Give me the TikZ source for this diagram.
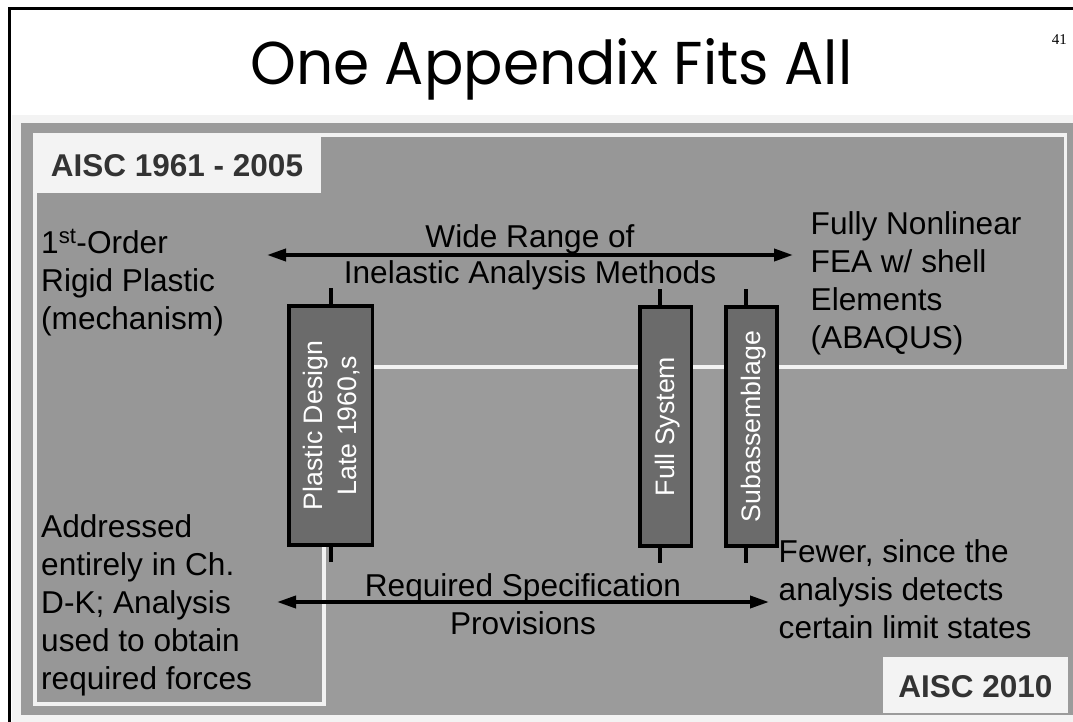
\documentclass[tikz,border=0pt]{standalone}
\usepackage{fontspec}
\setmainfont{Liberation Sans}
\newfontfamily\titlefont{Poppins}
\newfontfamily\numfont{Liberation Serif}
\usetikzlibrary{arrows.meta}
\definecolor{bandgray}{HTML}{F3F3F3}
\definecolor{panelgray}{HTML}{9B9B9B}
\definecolor{innergray}{HTML}{979797}
\definecolor{boxgray}{HTML}{6B6B6B}
\definecolor{labeltext}{HTML}{333333}
\definecolor{linewhite}{HTML}{F2F2F2}
\tikzset{
  bodytext/.style={font=\fontsize{31.6}{38}\selectfont, inner sep=0pt, text=black},
  tagbox/.style={fill=bandgray, inner sep=0pt, outer sep=0pt, font=\fontsize{31.5}{38}\selectfont\bfseries, text=labeltext, text depth=0pt},
  eraBox/.style={draw=black, line width=3.5pt, fill=boxgray, inner sep=0pt, outer sep=0pt, minimum height=239pt},
  boxtext/.style={rotate=90, text=white, font=\fontsize{26.7}{34}\selectfont, inner sep=0pt},
  stub/.style={line width=3.3pt},
  rangearrow/.style={line width=3.7pt, {Triangle[length=19pt,width=12pt]}-{Triangle[length=19pt,width=12pt]}},
  whiteline/.style={draw=linewhite, line width=3.5pt},
}
\begin{document}
\begin{tikzpicture}[x=1pt,y=-1pt]
\useasboundingbox (0,0) rectangle (1073,722);
\fill[white] (0,0) rectangle (1073,722);
% slide background
\fill[bandgray] (11.5,115) rectangle (1073,722);
\draw[black, line width=2.7pt] (9.7,722) -- (9.7,8.7) -- (1073,8.7);
\fill[panelgray] (21,123) rectangle (1073,714.5);
% L-shaped region
\fill[innergray] (35,135) -- (1065.5,135) -- (1065.5,367) -- (324,367) -- (324,704) -- (35,704) -- cycle;
\draw[whiteline] (35,135) -- (1065.5,135) -- (1065.5,367) -- (324,367) -- (324,704) -- (35,704) -- cycle;

% title and page number
\node[anchor=base west, inner sep=0pt] (title) at (250,85) {\resizebox{602pt}{46pt}{\titlefont One Appendix Fits All}};
\node[anchor=base east, inner sep=0pt, font=\numfont\fontsize{15}{18}\selectfont] (pagenum) at (1067,45) {41};

% era labels
\node[tagbox, minimum width=288pt, minimum height=59pt, text height=27pt] (oldTag) at (177,163.5) {AISC 1961 - 2005};
\node[tagbox, minimum width=185pt, minimum height=56pt, text height=25.4pt] (newTag) at (975.5,685) {AISC 2010};

% texts
\node[bodytext, anchor=base west] (rigid) at (41,253)
  {\begin{tabular}[t]{@{}l@{}}1\textsuperscript{st}-Order\\Rigid Plastic\\(mechanism)\end{tabular}};
\node[bodytext, anchor=base west] (fea) at (810.5,234)
  {\begin{tabular}[t]{@{}l@{}}Fully Nonlinear\\FEA w/ shell\\Elements\\(ABAQUS)\end{tabular}};
\node[bodytext, anchor=base west] (addressed) at (41,537)
  {\begin{tabular}[t]{@{}l@{}}Addressed\\entirely in Ch.\\D-K; Analysis\\used to obtain\\required forces\end{tabular}};
\node[bodytext, anchor=base west] (fewer) at (778.5,562)
  {\begin{tabular}[t]{@{}l@{}}Fewer, since the\\analysis detects\\certain limit states\end{tabular}};
\node[bodytext, font=\fontsize{31.6}{36}\selectfont, anchor=base] (wide) at (530,247)
  {\begin{tabular}[t]{@{}c@{}}Wide Range of\\Inelastic Analysis Methods\end{tabular}};
\node[bodytext, anchor=base] (required) at (523,596)
  {\begin{tabular}[t]{@{}c@{}}Required Specification\\Provisions\end{tabular}};

% range arrows
\coordinate (topL) at (267,255);
\coordinate (topR) at (793,255);
\coordinate (botL) at (277,602);
\coordinate (botR) at (769,602);
\draw[rangearrow] (topL) -- (topR);
\draw[rangearrow] (botL) -- (botR);

% boxes
\node[eraBox, minimum width=83.5pt] (pd) at (330.75,425.5) {};
\node[eraBox, minimum width=51.5pt] (fs) at (665.75,426.5) {};
\node[eraBox, minimum width=51pt] (sb) at (751.5,426.5) {};

\coordinate (pdTop) at (331,288);
\coordinate (pdBot) at (331,562);
\coordinate (fsTop) at (660,289);
\coordinate (fsBot) at (660,563);
\coordinate (sbTop) at (746,289);
\coordinate (sbBot) at (746,563);
\draw[stub] (pdTop) -- (pdTop |- pd.north);
\draw[stub] (pd.south -| pdBot) -- (pdBot);
\draw[stub] (fsTop) -- (fsTop |- fs.north);
\draw[stub] (fs.south -| fsBot) -- (fsBot);
\draw[stub] (sbTop) -- (sbTop |- sb.north);
\draw[stub] (sb.south -| sbBot) -- (sbBot);

\node[boxtext] (pdText) at ([xshift=2pt]pd.center) {\begin{tabular}{@{}c@{}}Plastic Design\\Late 1960,s\end{tabular}};
\node[boxtext] (fsText) at ([xshift=2pt]fs.center) {Full System};
\node[boxtext] (sbText) at ([xshift=2pt]sb.center) {Subassemblage};
\end{tikzpicture}
\end{document}
